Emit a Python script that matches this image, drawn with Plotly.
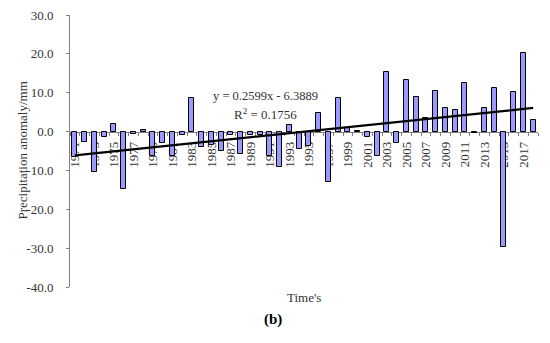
import plotly.graph_objects as go

years = list(range(1971, 2019))
anomaly = [
    -6.5, -2.8, -10.3, -1.5, 2.0, -14.7, -0.7, 0.3, -6.4, -3.0,
    -6.4, -1.0, 8.7, -4.0, -3.4, -5.1, -1.0, -5.7, -0.8, -0.8,
    -6.4, -9.1, 1.8, -4.5, -3.6, 4.7, -12.9, 8.7, 1.0, 0.2,
    -1.4, -6.4, 15.4, -3.0, 13.2, 9.0, 3.6, 10.5, 6.0, 5.5,
    12.4, -0.4, 6.0, 11.3, -29.8, 10.3, 20.1, 3.0,
]
slope = 0.2599
intercept = -6.3889
y_ticks = [30, 20, 10, 0, -10, -20, -30, -40]
x_label_years = list(range(1971, 2018, 2))

trend = [slope * (i + 1) + intercept for i in range(len(years))]

fig = go.Figure()
fig.add_trace(go.Bar(
    x=years, y=anomaly, width=0.5,
    marker=dict(color="#9999FF", line=dict(color="black", width=1)),
    showlegend=False,
))
fig.add_trace(go.Scatter(
    x=years, y=trend, mode="lines",
    line=dict(color="black", width=2.2), showlegend=False,
))

serif = "Liberation Serif"
txt = "#333333"
fig.update_layout(
    width=550, height=343,
    margin=dict(l=70, r=12, t=15, b=56),
    paper_bgcolor="white", plot_bgcolor="white",
    bargap=0,
    xaxis=dict(
        range=[1970.5, 2018.5], automargin=False,
        anchor="free", position=40/70,
        showline=True, linecolor="#808080", linewidth=1,
        tickvals=x_label_years, ticktext=[str(y) for y in x_label_years],
        tickangle=-90, ticks="", ticklabelstandoff=4,
        tickfont=dict(family=serif, size=13, color=txt),
        minor=dict(tick0=1970.5, dtick=1, ticks="outside", ticklen=3, tickcolor="#808080"),
        showgrid=False, zeroline=False, layer="below traces",
    ),
    yaxis=dict(
        range=[-40, 30], automargin=False,
        tickvals=y_ticks, ticktext=[f"{v:.1f}" for v in y_ticks],
        showline=True, linecolor="#808080", linewidth=1,
        ticks="outside", ticklen=3, tickcolor="#808080",
        ticklabelstandoff=10,
        tickfont=dict(family=serif, size=13, color=txt),
        showgrid=False, zeroline=False,
    ),
    annotations=[
        dict(text="y = 0.2599x - 6.3889", x=(265-70)/468, y=(287-87)/272,
             xref="paper", yref="paper", showarrow=False,
             font=dict(family=serif, size=12.5, color=txt)),
        dict(text="R<sup>2</sup> = 0.1756", x=(265-70)/468, y=(287-104)/272,
             xref="paper", yref="paper", showarrow=False,
             font=dict(family=serif, size=13, color=txt)),
        dict(text="Time's", x=(304-70)/468, y=(287-307)/272,
             xref="paper", yref="paper", showarrow=False,
             font=dict(family=serif, size=13, color=txt)),
        dict(text="<b>(b)</b>", x=(273-70)/468, y=(287-330)/272,
             xref="paper", yref="paper", showarrow=False,
             font=dict(family=serif, size=15, color="black")),
        dict(text="Precipitation anomaly/mm", x=(12-70)/468, y=0.5,
             xref="paper", yref="paper", showarrow=False, textangle=-90,
             font=dict(family=serif, size=13, color=txt)),
    ],
)

fig.write_html("out.html", config={"displayModeBar": False},
               post_script="document.body.style.margin='0';")
